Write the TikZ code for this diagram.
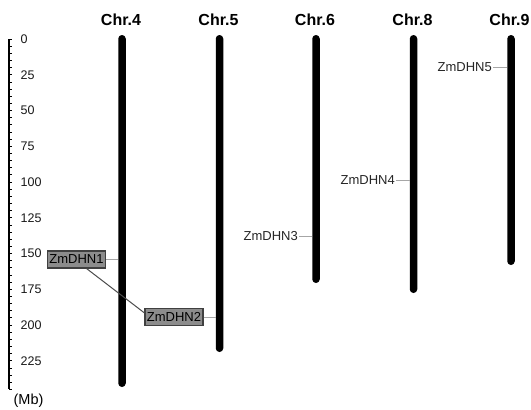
\documentclass[tikz,border=0pt]{standalone}
\usepackage{fontspec}
\setmainfont{Liberation Sans}
\tikzset{
  chrom/.style={fill=black, draw=none, rounded corners=3.7pt, minimum width=7.5pt, inner sep=0pt},
  chrname/.style={font=\fontsize{16}{18}\selectfont\bfseries, text=black, inner sep=0pt},
  gene/.style={font=\fontsize{13}{15}\selectfont, text=black!85, inner sep=1pt},
  genebox/.style={gene, text=black, draw=black!75, fill=black!45, line width=1.2pt, inner sep=2pt, minimum height=17pt},
  leader/.style={draw=black!35, line width=0.6pt},
  link/.style={draw=black!70, line width=1pt},
  axisline/.style={draw=black, line width=1.2pt},
  tickmark/.style={draw=black, line width=0.8pt},
  ticklbl/.style={font=\fontsize{12.5}{14}\selectfont, text=black!90, anchor=west, inner sep=0pt}
}
\begin{document}
\begin{tikzpicture}[x=1pt,y=-1pt]
  \useasboundingbox[fill=white] (0,0) rectangle (531,410);

  % scale axis in Mb (1.43 units per Mb, 0 at y = 39)
  \draw[axisline] (9,39) -- (9,389);
  \foreach \m in {0,5,...,245}
    \draw[tickmark] (9,{39+1.43*\m}) -- ++(3.2,0);
  \foreach \m in {0,25,...,225}
    \node[ticklbl] (t\m) at (20.5,{39+1.43*\m}) {\m};
  \node[font=\fontsize{14.5}{16}\selectfont, inner sep=0pt] (mb) at (28.5,401) {(Mb)};

  % chromosomes
  \node[chrom, minimum height=352pt] (c4) at (122,211) {};
  \node[chrom, minimum height=317pt] (c5) at (219.5,193.5) {};
  \node[chrom, minimum height=248pt] (c6) at (316,159) {};
  \node[chrom, minimum height=258pt] (c8) at (413.5,164) {};
  \node[chrom, minimum height=230pt] (c9) at (511,150) {};

  % chromosome names
  \node[chrname] (n4) at (121,20) {Chr.4};
  \node[chrname] (n5) at (218.5,20) {Chr.5};
  \node[chrname] (n6) at (315,20) {Chr.6};
  \node[chrname] (n8) at (412.5,20) {Chr.8};
  \node[chrname] (n9) at (509.5,20) {Chr.9};

  % gene labels
  \node[genebox] (g1) at (76.5,259.5) {ZmDHN1};
  \node[genebox] (g2) at (174,317) {ZmDHN2};
  \node[gene, anchor=east] (g3) at (299,236) {ZmDHN3};
  \node[gene, anchor=east] (g4) at (396,180) {ZmDHN4};
  \node[gene, anchor=east] (g5) at (493,67) {ZmDHN5};

  % leaders from labels to chromosomes
  \draw[leader] (g1.east) -- (g1.east -| c4.west);
  \draw[leader] (g2.east) -- (g2.east -| c5.west);
  \draw[leader] (g3.east) -- (g3.east -| c6.west);
  \draw[leader] (g4.east) -- (g4.east -| c8.west);
  \draw[leader] (g5.east) -- (g5.east -| c9.west);

  % link between the paired genes
  \draw[link] (g1.-42) -- (g2.172);
\end{tikzpicture}
\end{document}
